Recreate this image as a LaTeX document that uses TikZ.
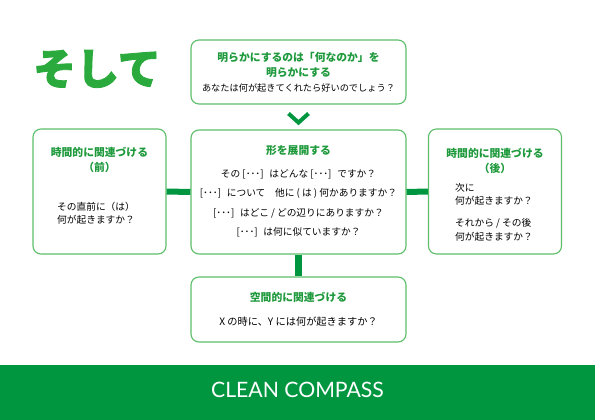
\documentclass[tikz,border=0pt]{standalone}
\usepackage{fontspec}
\setmainfont{Noto Sans CJK JP}
\newfontfamily\jp{Noto Sans CJK JP}
\newfontfamily\jpheavy[BoldFeatures={FakeBold=2}]{Noto Sans CJK JP}
\newfontfamily\footfont{Lato}
\newcommand{\dts}{[･･･]\hspace{0.6em}}
\begin{document}
\begin{tikzpicture}[x=1pt,y=-1pt,
  box/.style={draw=boxgreen,line width=1.1pt,rounded corners=8pt,fill=white,minimum width=215pt,inner sep=0pt},
  sidebox/.style={box,minimum width=133pt,minimum height=125pt},
  ttl/.style={text=titlegreen,font=\jp\bfseries\fontsize{10.8}{15}\selectfont,align=center,inner sep=0pt},
  body/.style={text=black,font=\jp\fontsize{9.7}{13.5}\selectfont,inner sep=0pt},
  sbody/.style={body,align=left,anchor=west,font=\jp\fontsize{9.7}{13.5}\selectfont},
  bar/.style={draw=bargreen,line width=6pt}]
\definecolor{boxgreen}{HTML}{5DBE69}
\definecolor{titlegreen}{HTML}{1E9A3C}
\definecolor{bargreen}{HTML}{009640}
\definecolor{bigg}{HTML}{2AAA3C}
\useasboundingbox (0,0) rectangle (595,420);
% title
\node[text=bigg,font=\jpheavy\bfseries\fontsize{43}{43}\selectfont,inner sep=0pt] (head) at (97,69) {そして};
% boxes
\node[box,minimum height=64pt] (top) at (298.5,72) {};
\node[box,minimum height=124pt] (mid) at (298.5,192) {};
\node[sidebox] (left) at (99.5,191.5) {};
\node[sidebox] (right) at (495,191.5) {};
\node[box,minimum height=65pt] (bot) at (298.5,309.5) {};
% connectors
\draw[bar] (left.east) -- (mid.west);
\draw[bar] (mid.east) -- (right.west);
\draw[bar,line width=7pt] (mid.south) -- (bot.north);
% chevron
\coordinate (cv) at ([shift={(0,18)}]top.south);
\draw[bargreen,line width=4pt,miter limit=10] ([shift={(-10,-9)}]cv) -- (cv) -- ([shift={(10,-9)}]cv);
% top texts
\node[ttl] (toptitle) at (298.5,65) {明らかにするのは「何なのか」を\\明らかにする};
\node[body,font=\jp\fontsize{9.2}{13}\selectfont] (toptext) at (298.5,88) {あなたは何が起きてくれたら好いのでしょう？};
% middle
\node[ttl] (midtitle) at (298.5,151) {形を展開する};
\node[body] (m1) at (298.5,174) {その \dts はどんな \dts ですか？};
\node[body] (m2) at (298.5,193) {\dts について　他に ( は ) 何かありますか？};
\node[body] (m3) at (298.5,213) {\dts はどこ / どの辺りにありますか？};
\node[body] (m4) at (298.5,232) {\dts は何に似ていますか？};
% left
\node[ttl] (lt) at (99.5,160) {時間的に関連づける\\（前）};
\node[sbody] (lb) at (57,213.5) {その直前に（は）\\何が起きますか？};
% right
\node[ttl] (rt) at (495,161) {時間的に関連づける\\（後）};
\node[sbody] (rb1) at (455,194.5) {次に\\何が起きますか？};
\node[sbody] (rb2) at (455,230) {それから / その後\\何が起きますか？};
% bottom
\node[ttl] (bt) at (298.5,297) {空間的に関連づける};
\node[body,font=\jp\fontsize{10.2}{13}\selectfont] (bb) at (298.5,322) {X の時に、Y には何が起きますか？};
% footer
\fill[bargreen] (0,365) rectangle (595,420);
\node[text=white,font=\footfont\fontsize{21.2}{21.2}\selectfont,inner sep=0pt] (foot) at (297.5,390) {CLEAN COMPASS};
\end{tikzpicture}
\end{document}
